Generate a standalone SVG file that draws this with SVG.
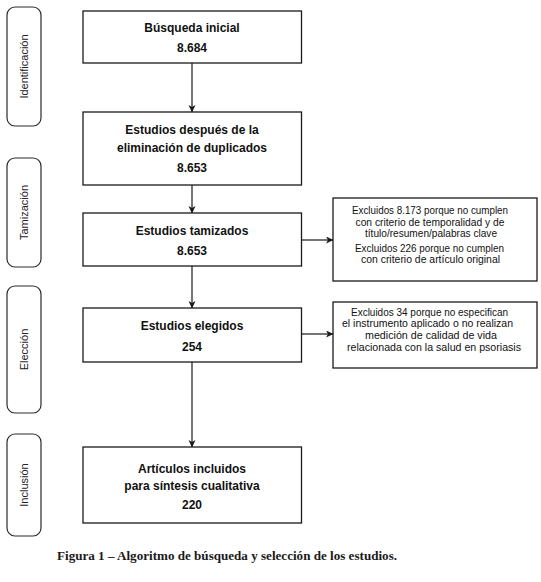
<svg xmlns="http://www.w3.org/2000/svg" width="541" height="582" viewBox="0 0 541 582">
<defs>
<style>
.box{fill:#fff;stroke:#1a1a1a;stroke-width:1.3}
.side{fill:#fff;stroke:#2a2a2a;stroke-width:1.2}
.t{font-family:"Liberation Sans",Arial,sans-serif;font-weight:bold;font-size:12px;fill:#111;text-anchor:middle}
.s{font-family:"Liberation Sans",Arial,sans-serif;font-size:11px;fill:#222;text-anchor:middle}
.e{font-family:"Liberation Sans",Arial,sans-serif;font-size:11px;fill:#111;text-anchor:middle}
.cap{font-family:"Liberation Serif","Times New Roman",serif;font-weight:bold;font-size:12px;fill:#1a1a1a}
.c{stroke:#1a1a1a;stroke-width:1.2;fill:none;marker-end:url(#ah)}
</style>
<marker id="ah" markerWidth="8" markerHeight="8" refX="7" refY="3.5" orient="auto" markerUnits="userSpaceOnUse">
<path d="M0,0 L7.5,3.5 L0,7 L2,3.5 z" fill="#1a1a1a"/>
</marker>
</defs>
<rect width="541" height="582" fill="#fff"/>

<g id="side-identificacion">
<rect class="side" x="7" y="7" width="34" height="119" rx="8"/>
<text class="s" transform="translate(28,66.5) rotate(-90)">Identificación</text>
</g>
<g id="side-tamizacion">
<rect class="side" x="7" y="158" width="34" height="109" rx="8"/>
<text class="s" transform="translate(28,212.5) rotate(-90)">Tamización</text>
</g>
<g id="side-eleccion">
<rect class="side" x="7" y="286" width="34" height="127" rx="8"/>
<text class="s" transform="translate(28,349.5) rotate(-90)">Elección</text>
</g>
<g id="side-inclusion">
<rect class="side" x="7" y="434" width="34" height="102" rx="8"/>
<text class="s" transform="translate(28,485) rotate(-90)">Inclusión</text>
</g>

<g id="connectors">
<line class="c" x1="192" y1="63" x2="192" y2="112"/>
<line class="c" x1="192" y1="185" x2="192" y2="213"/>
<line class="c" x1="192" y1="266" x2="192" y2="308"/>
<line class="c" x1="192" y1="362" x2="192" y2="447"/>
<line class="c" x1="301.5" y1="240" x2="333" y2="240"/>
<line class="c" x1="301.5" y1="334" x2="333" y2="334"/>
</g>

<g id="n1">
<rect class="box" x="83" y="11" width="218.5" height="52"/>
<text class="t" x="192" y="32">Búsqueda inicial</text>
<text class="t" x="192" y="52">8.684</text>
</g>
<g id="n2">
<rect class="box" x="83" y="112" width="218.5" height="73"/>
<text class="t" x="192" y="134">Estudios después de la</text>
<text class="t" x="192" y="152">eliminación de duplicados</text>
<text class="t" x="192" y="172">8.653</text>
</g>
<g id="n3">
<rect class="box" x="83" y="213" width="218.5" height="53"/>
<text class="t" x="192" y="235">Estudios tamizados</text>
<text class="t" x="192" y="255">8.653</text>
</g>
<g id="n4">
<rect class="box" x="83" y="308" width="218.5" height="54"/>
<text class="t" x="192" y="330">Estudios elegidos</text>
<text class="t" x="192" y="351">254</text>
</g>
<g id="n5">
<rect class="box" x="83" y="447" width="218.5" height="76"/>
<text class="t" x="192" y="473">Artículos incluidos</text>
<text class="t" x="192" y="490">para síntesis cualitativa</text>
<text class="t" x="192" y="509">220</text>
</g>

<g id="excl1">
<rect class="box" x="333" y="198" width="204" height="83"/>
<text class="e" x="430" y="214" textLength="156" lengthAdjust="spacingAndGlyphs">Excluidos 8.173 porque no cumplen</text>
<text class="e" x="430" y="226" textLength="149" lengthAdjust="spacingAndGlyphs">con criterio de temporalidad y de</text>
<text class="e" x="431" y="237" textLength="132" lengthAdjust="spacingAndGlyphs">título/resumen/palabras clave</text>
<text class="e" x="429.5" y="252" textLength="149" lengthAdjust="spacingAndGlyphs">Excluidos 226 porque no cumplen</text>
<text class="e" x="430.5" y="263" textLength="139" lengthAdjust="spacingAndGlyphs">con criterio de artículo original</text>
</g>
<g id="excl2">
<rect class="box" x="333" y="302" width="204" height="66"/>
<text class="e" x="429.5" y="316" textLength="157" lengthAdjust="spacingAndGlyphs">Excluidos 34 porque no especifican</text>
<text class="e" x="427.5" y="327" textLength="171" lengthAdjust="spacingAndGlyphs">el instrumento aplicado o no realizan</text>
<text class="e" x="431" y="339" textLength="132" lengthAdjust="spacingAndGlyphs">medición de calidad de vida</text>
<text class="e" x="434" y="351" textLength="174" lengthAdjust="spacingAndGlyphs">relacionada con la salud en psoriasis</text>
</g>

<text class="cap" x="57" y="560" textLength="340" lengthAdjust="spacingAndGlyphs">Figura 1 – Algoritmo de búsqueda y selección de los estudios.</text>
</svg>
